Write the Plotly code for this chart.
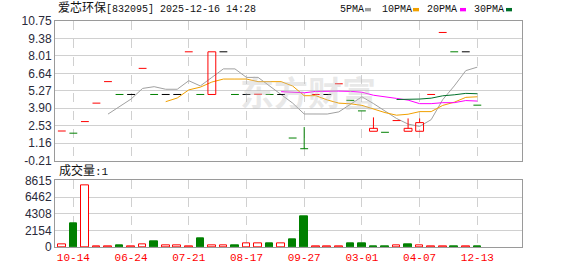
import plotly.graph_objects as go
import pandas as pd

# ---------------- data ----------------
close = [2.11, 1.94, 2.85, 4.30, 5.99, 4.98, 4.98, 7.03, 4.98, 4.98, 4.98, 8.33, 4.98,
         8.33, 8.33, 4.98, 4.98, 5.00, 4.98, 4.98, 1.56, 0.72, 4.98, 4.98, 5.82, 4.52,
         3.69, 2.32, 2.01, 2.93, 2.32, 2.77, 4.98, 9.85, 8.33, 8.33, 4.14]
open_ = [2.11, 1.94, 2.85, 4.30, 5.99, 4.98, 4.98, 7.03, 4.98, 4.98, 4.98, 8.33, 4.98,
         4.98, 8.33, 4.98, 4.98, 5.00, 4.98, 4.98, 1.56, 0.72, 4.98, 4.98, 5.82, 4.52,
         3.69, 2.09, 2.01, 2.93, 2.09, 2.09, 4.98, 9.85, 8.33, 8.33, 4.14]
high = [2.11, 1.94, 2.85, 4.30, 5.99, 4.98, 4.98, 7.03, 4.98, 4.98, 4.98, 8.33, 4.98,
        8.33, 8.33, 4.98, 4.98, 5.00, 4.98, 4.98, 1.56, 2.42, 4.98, 4.98, 5.82, 4.52,
        3.69, 3.18, 2.01, 2.93, 3.10, 3.10, 4.98, 9.85, 8.33, 8.33, 4.14]
low = [2.11, 1.94, 2.85, 4.30, 5.99, 4.98, 4.98, 7.03, 4.98, 4.98, 4.98, 8.33, 4.98,
       4.98, 8.33, 4.98, 4.98, 5.00, 4.98, 4.98, 1.56, 0.72, 4.98, 4.98, 5.82, 4.52,
       3.69, 2.09, 2.01, 2.93, 2.09, 2.09, 4.98, 9.85, 8.33, 8.33, 4.14]
volume = [375, 3000, 8000, 90, 90, 260, 90, 300, 770, 240, 240, 90, 1150, 240, 240,
          260, 520, 520, 520, 520, 1020, 4000, 90, 90, 90, 520, 520, 100, 100, 240,
          400, 240, 90, 90, 100, 90, 100]

tick_pos = [1, 6, 11, 16, 21, 26, 31, 36]
tick_labels = ["10-14", "06-24", "07-21", "08-17", "09-27", "03-01", "04-07", "12-13"]
price_ticks = [-0.21, 1.16, 2.53, 3.90, 5.27, 6.64, 8.01, 9.38, 10.75]
vol_ticks = [0, 2154, 4308, 6462, 8615]

ma_periods = [5, 10, 20, 30]
ma_names = ["5PMA", "10PMA", "20PMA", "30PMA"]
ma_colors = ["#a0a0a0", "#f0a000", "#ff00ff", "#00702a"]

RED, GREEN, BLACK = "#ff0000", "#008000", "#000000"
n = len(close)
idx = list(range(n))
HALF = 0.34

fig = go.Figure()

# moving averages
s = pd.Series(close)
for p, name, col in zip(ma_periods, ma_names, ma_colors):
    fig.add_trace(go.Scatter(x=idx, y=s.rolling(p).mean(), mode="lines",
                             line=dict(color=col, width=1), name=name,
                             showlegend=False, hoverinfo="skip", xaxis="x", yaxis="y"))

# candles drawn as line segments
groups = {RED: ([], []), GREEN: ([], []), BLACK: ([], [])}
for i in idx:
    o, c, h, l = open_[i], close[i], high[i], low[i]
    prev = close[i - 1] if i > 0 else c - 1
    if o == c:
        col = RED if c > prev else (GREEN if c < prev else BLACK)
        xs = [i - HALF, i + HALF, None]
        ys = [c, c, None]
    else:
        col = RED if c > o else GREEN
        top, bot = max(o, c), min(o, c)
        xs = [i - HALF, i + HALF, i + HALF, i - HALF, i - HALF, None]
        ys = [bot, bot, top, top, bot, None]
    top, bot = max(o, c), min(o, c)
    if h > top:
        xs += [i, i, None]
        ys += [top, h, None]
    if l < bot:
        xs += [i, i, None]
        ys += [l, bot, None]
    groups[col][0].extend(xs)
    groups[col][1].extend(ys)

for col, (xs, ys) in groups.items():
    fig.add_trace(go.Scatter(x=xs, y=ys, mode="lines", line=dict(color=col, width=1),
                             showlegend=False, hoverinfo="skip", xaxis="x", yaxis="y"))

# volume bars
vcol_fill, vcol_line = [], []
for i in idx:
    prev = close[i - 1] if i > 0 else close[i]
    if close[i] >= prev:
        vcol_fill.append("#ffffff")
        vcol_line.append(RED)
    else:
        vcol_fill.append(GREEN)
        vcol_line.append(GREEN)
fig.add_trace(go.Bar(x=idx, y=volume, width=0.66,
                     marker=dict(color=vcol_fill, line=dict(color=vcol_line, width=1)),
                     showlegend=False, hoverinfo="skip", xaxis="x2", yaxis="y2"))

XR = [-0.59, 39.87]
grid = "#d0d0d0"
border = "#9a9a9a"
axfont = dict(family="Liberation Sans, Arial", size=12, color="#2a2a3a")

fig.update_layout(
    width=578, height=276,
    margin=dict(l=55, r=56, t=21, b=21),
    paper_bgcolor="white", plot_bgcolor="white",
    bargap=0,
    xaxis=dict(domain=[0, 1], range=XR, anchor="y", tickvals=tick_pos,
               showticklabels=False, showgrid=True, gridcolor=grid, griddash="dash",
               gridwidth=1, zeroline=False, showline=True, linecolor=border,
               linewidth=1, mirror=True, ticks=""),
    yaxis=dict(domain=[0.3825, 1], range=[-0.21, 10.75], anchor="x",
               tickvals=price_ticks, ticktext=["%.2f" % v for v in price_ticks],
               showgrid=True, gridcolor=grid, gridwidth=1, zeroline=False,
               showline=True, linecolor=border, linewidth=1, mirror=True,
               ticks="", tickfont=axfont),
    xaxis2=dict(domain=[0, 1], range=XR, anchor="y2", tickvals=tick_pos,
                ticktext=tick_labels, showgrid=True, gridcolor=grid, griddash="dash",
                gridwidth=1, zeroline=False, showline=True, linecolor=border,
                linewidth=1, mirror=True, ticks="",
                tickfont=dict(family="Liberation Mono, monospace", size=11, color=RED)),
    yaxis2=dict(domain=[0, 0.2949], range=[0, 8615], anchor="x2",
                tickvals=vol_ticks, ticktext=[str(v) for v in vol_ticks],
                showgrid=True, gridcolor=grid, gridwidth=1, zeroline=False,
                showline=True, linecolor=border, linewidth=1, mirror=True,
                ticks="", tickfont=axfont),
)

cjk = "Liberation Mono, Noto Sans CJK SC"
ann = []
ann.append(dict(xref="paper", yref="paper", x=0, y=1, xanchor="left", yanchor="middle",
                xshift=1, yshift=13, showarrow=False,
                text="<span style='font-size:12px'>爱芯环保</span>[832095] 2025-12-16 14:28",
                font=dict(family=cjk, size=10, color="#111")))
ann.append(dict(xref="paper", yref="paper", x=0, y=0.2949, xanchor="left",
                yanchor="middle", xshift=2, yshift=9, showarrow=False,
                text="<span style='font-size:12px'>成交量</span>:1",
                font=dict(family=cjk, size=11, color="#111")))
# watermark
ann.append(dict(xref="paper", yref="paper", x=(308 - 55) / 467, y=(255 - 94) / 234,
                xanchor="center", yanchor="middle", showarrow=False, text="<b>东方财富</b>",
                font=dict(family="Noto Sans CJK SC", size=34, color="rgba(190,190,190,0.35)")))
# MA legend
leg_x = [338, 380, 425, 472]
sq_x = [365, 413, 460, 506]
for name, col, lx, sx in zip(ma_names, ma_colors, leg_x, sq_x):
    ann.append(dict(xref="paper", yref="paper", x=(lx - 55) / 467, y=1, xanchor="left",
                    yanchor="middle", yshift=12, showarrow=False, text=name,
                    font=dict(family="Liberation Mono, monospace", size=10, color="#111")))
    fig.add_shape(type="rect", xref="paper", yref="paper", x0=(sx - 55) / 467,
                  x1=(sx + 6 - 55) / 467, y0=(255 - 11) / 234, y1=(255 - 7.5) / 234,
                  line=dict(width=0), fillcolor=col)
fig.update_layout(annotations=ann)

fig.write_html("out.html")
